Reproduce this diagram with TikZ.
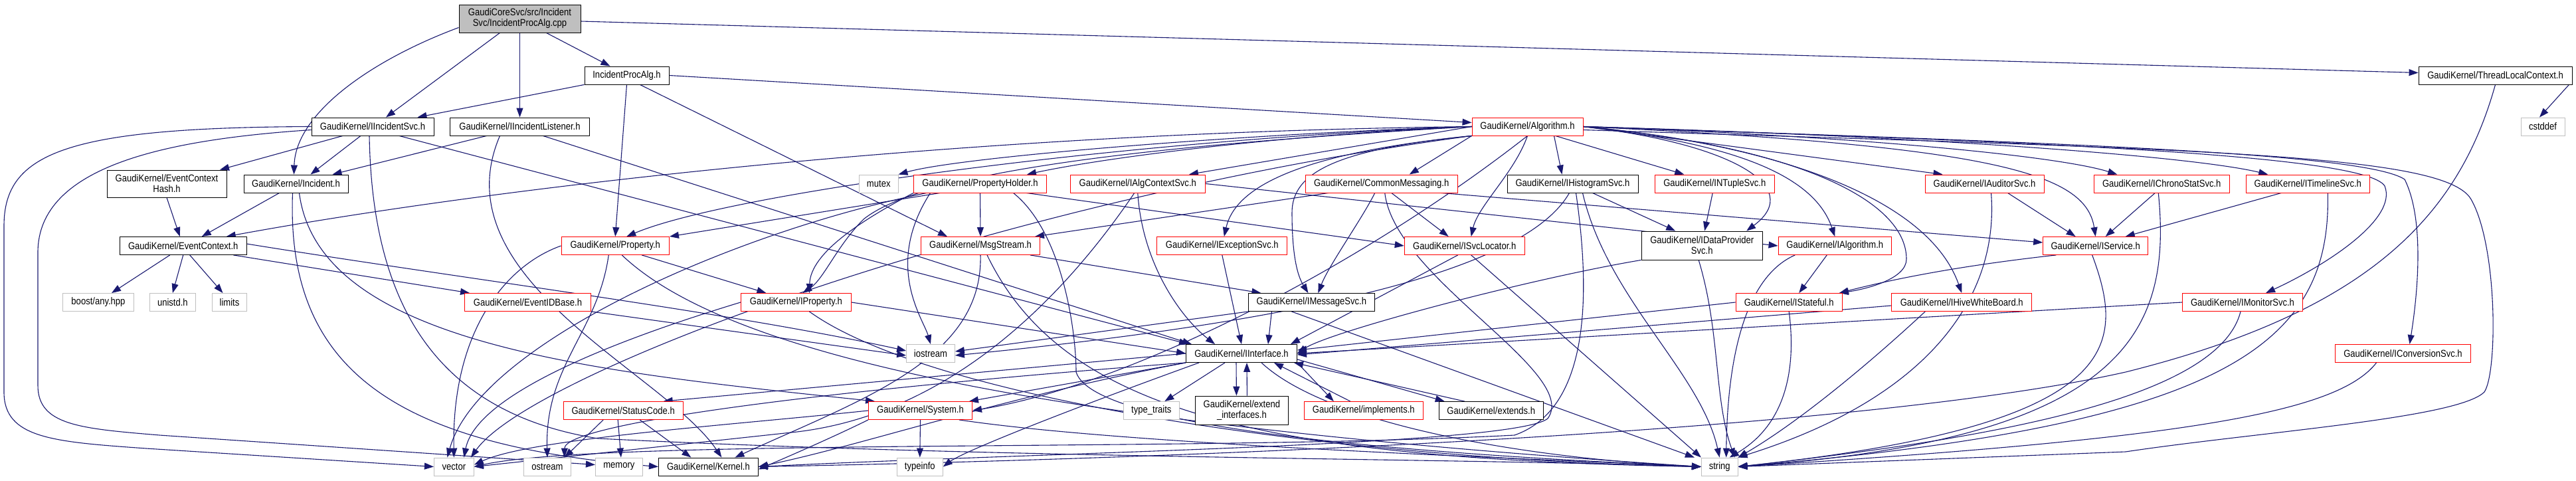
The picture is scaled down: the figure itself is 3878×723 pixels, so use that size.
\documentclass[tikz,border=0pt]{standalone}
\usepackage{fontspec}
\setmainfont{Liberation Sans}[FakeStretch=0.87]
\usetikzlibrary{arrows.meta}
\definecolor{edgec}{HTML}{191970}
\definecolor{gbord}{HTML}{BFBFBF}
\definecolor{rootfill}{HTML}{BFBFBF}
\pgfdeclarelayer{bg}
\pgfsetlayers{bg,main}
\newcommand\nfont{\fontsize{15}{16}\selectfont}
\newcommand\mynode[6]{\node[#1,minimum width=#4pt,minimum height=#5pt] (#2) at (#3) {#6};}
\begin{document}
\begin{tikzpicture}[x=1pt,y=-1pt,
  nb/.style={draw=black,line width=0.9pt,fill=white,inner sep=0pt,align=center,font=\nfont},
  nr/.style={nb,draw=red},
  ng/.style={nb,draw=gbord},
  e/.style={draw=edgec,line width=1.1pt,-{Triangle[length=14pt,width=10pt]}}]
\useasboundingbox (0,0) rectangle (3878,723);
% nodes
\mynode{nb,fill=rootfill}{root}{782.5,28}{183}{42}{GaudiCoreSvc/src/Incident\\Svc/IncidentProcAlg.cpp}
\mynode{nb}{ipah}{943.5,113.5}{127}{27}{IncidentProcAlg.h}
\mynode{nb}{tlc}{3756.5,113.5}{231}{27}{GaudiKernel/ThreadLocalContext.h}
\mynode{nb}{iisvc}{561,190.5}{184}{27}{GaudiKernel/IIncidentSvc.h}
\mynode{nb}{iil}{782.5,190.5}{210}{27}{GaudiKernel/IIncidentListener.h}
\mynode{nr}{alg}{2299.5,190.5}{167}{27}{GaudiKernel/Algorithm.h}
\mynode{ng}{cstddef}{3828,190.5}{66}{27}{cstddef}
\mynode{nb}{echash}{251,276.5}{180}{41}{GaudiKernel/EventContext\\Hash.h}
\mynode{nb}{incident}{445.5,276.5}{157}{27}{GaudiKernel/Incident.h}
\mynode{ng}{mutex}{1322.75,276.5}{58.5}{27}{mutex}
\mynode{nr}{propholder}{1475.5,276.5}{200}{27}{GaudiKernel/PropertyHolder.h}
\mynode{nr}{ialgctx}{1712.75,276.5}{203.5}{27}{GaudiKernel/IAlgContextSvc.h}
\mynode{nr}{commsg}{2079.75,276.5}{228.5}{27}{GaudiKernel/CommonMessaging.h}
\mynode{nb}{ihisto}{2367.5,276.5}{197}{27}{GaudiKernel/IHistogramSvc.h}
\mynode{nr}{intuple}{2581.25,276.5}{180.5}{27}{GaudiKernel/INTupleSvc.h}
\mynode{nr}{iauditor}{2987.5,276.5}{179}{27}{GaudiKernel/IAuditorSvc.h}
\mynode{nr}{ichrono}{3254.25,276.5}{204.5}{27}{GaudiKernel/IChronoStatSvc.h}
\mynode{nr}{itimeline}{3474.25,276.5}{186.5}{27}{GaudiKernel/ITimelineSvc.h}
\mynode{nb}{evctx}{275.75,370}{190.5}{27}{GaudiKernel/EventContext.h}
\mynode{nr}{property}{926.25,370}{162.5}{27}{GaudiKernel/Property.h}
\mynode{nr}{msgstream}{1476,370}{179}{27}{GaudiKernel/MsgStream.h}
\mynode{nr}{iexc}{1839.8,370}{196}{27}{GaudiKernel/IExceptionSvc.h}
\mynode{nr}{isvcloc}{2204.7,370}{181}{27}{GaudiKernel/ISvcLocator.h}
\mynode{nb}{idp}{2562.2,369.5}{182.4}{43}{GaudiKernel/IDataProvider\\Svc.h}
\mynode{nr}{ialgo}{2762.25,370}{170.5}{27}{GaudiKernel/IAlgorithm.h}
\mynode{nr}{iservice}{3154.65,370}{158}{27}{GaudiKernel/IService.h}
\mynode{ng}{boost}{148,455}{107}{27}{boost/any.hpp}
\mynode{ng}{unistd}{259.9,455}{68.6}{27}{unistd.h}
\mynode{ng}{limits}{345.5,455}{52}{27}{limits}
\mynode{nr}{evidbase}{794.5,455}{190}{27}{GaudiKernel/EventIDBase.h}
\mynode{nr}{iprop}{1198.4,455}{166}{27}{GaudiKernel/IProperty.h}
\mynode{nb}{imsgsvc}{1974.4,455}{190}{27}{GaudiKernel/IMessageSvc.h}
\mynode{nr}{istateful}{2693.2,455}{160.4}{27}{GaudiKernel/IStateful.h}
\mynode{nr}{ihive}{2953.2,455}{211}{27}{GaudiKernel/IHiveWhiteBoard.h}
\mynode{nr}{imonitor}{3376,455}{180.8}{27}{GaudiKernel/IMonitorSvc.h}
\mynode{ng}{iostream}{1401,532}{72.8}{27}{iostream}
\mynode{nb}{iinterface}{1869,532}{167}{27}{GaudiKernel/IInterface.h}
\mynode{nr}{iconv}{3617.5,532}{204.5}{27}{GaudiKernel/IConversionSvc.h}
\mynode{nr}{statuscode}{938.2,618}{180}{27}{GaudiKernel/StatusCode.h}
\mynode{nr}{system}{1385.5,618}{156}{27}{GaudiKernel/System.h}
\mynode{ng}{typetraits}{1733.3,618}{84}{27}{type\_traits}
\mynode{nb}{extif}{1869.4,617.5}{140}{43}{GaudiKernel/extend\\\_interfaces.h}
\mynode{nr}{implements}{2052.8,618}{179}{27}{GaudiKernel/implements.h}
\mynode{nb}{extends}{2244.7,618}{157}{27}{GaudiKernel/extends.h}
\mynode{ng}{vector}{683.4,702.5}{60}{27}{vector}
\mynode{ng}{ostream}{824,702.5}{70.7}{27}{ostream}
\mynode{ng}{memory}{931.9,702.5}{71}{27}{memory}
\mynode{nb}{kernel}{1066.4,702.5}{150}{27}{GaudiKernel/Kernel.h}
\mynode{ng}{typeinfo}{1384.8,702.5}{69}{27}{typeinfo}
\mynode{ng}{string}{2588.7,702.5}{54.7}{27}{string}
% edges
\begin{pgfonlayer}{bg}
% root
\draw[e] ([xshift=40pt]root.south) -- ([xshift=-25pt]ipah.north);
\draw[e] (root.south) -- (iil.north);
\draw[e] ([xshift=-30pt]root.south) -- ([xshift=20pt]iisvc.north);
\draw[e] ([yshift=8pt]root.south west) .. controls (560,90) and (445,170) .. ([xshift=-3pt]incident.north);
\draw[e] ([yshift=-4pt]root.east) -- ([yshift=4pt]tlc.west);
% IncidentProcAlg.h
\draw[e] (ipah.east) -- ([yshift=6pt]alg.west);
\draw[e] (ipah.south west) -- ([xshift=-25pt]iisvc.north east);
\draw[e] (ipah.south) -- (property.north);
\draw[e] ([xshift=20pt]ipah.south) -- ([xshift=-50pt]msgstream.north);
% ThreadLocalContext
\draw[e] ([xshift=-5pt]tlc.south east) -- ([xshift=-5pt]cstddef.north);
\draw[e] (tlc.south) .. controls (3700,330) and (3560,470) .. (3200,560) .. controls (2800,650) and (1800,690) .. (kernel.east);
% IIncidentSvc
\draw[e] ([xshift=-45pt]iisvc.south) -- ([xshift=80pt]echash.north);
\draw[e] ([xshift=-18pt]iisvc.south) -- ([xshift=22pt]incident.north);
\draw[e] ([xshift=40pt]iisvc.south) -- ([xshift=-80pt]iinterface.north);
\draw[e] (iisvc.west) .. controls (100,192) and (6,230) .. (6,340) -- (6,590) .. controls (6,660) and (80,665) .. (220,675) -- (vector.west);
\draw[e] ([yshift=-5pt]iisvc.west) .. controls (250,210) and (57,250) .. (57,380) -- (57,580) .. controls (57,640) and (120,645) .. (240,655) -- ([yshift=3pt]memory.west);
\draw[e] ([xshift=-5pt]iisvc.south) .. controls (560,450) and (650,620) .. (900,660) .. controls (1500,690) and (2200,690) .. (string.west);
% IIncidentListener
\draw[e] ([xshift=-50pt]iil.south) -- ([xshift=55pt]incident.north);
\draw[e] ([xshift=35pt]iil.south) -- ([xshift=-75pt]iinterface.north);
\draw[e] ([xshift=-30pt]iil.south) .. controls (660,420) and (1000,560) .. ([xshift=20pt]kernel.north);
% Incident
\draw[e] ([xshift=-25pt]incident.south) -- ([xshift=28pt]evctx.north);
\draw[e] ([xshift=-5pt]incident.south) .. controls (430,560) and (600,670) .. (kernel.west);
\draw[e] ([xshift=5pt]incident.south) .. controls (480,520) and (900,560) .. ([xshift=10pt]system.north west);
% EventContextHash
\draw[e] (echash.south) -- ([xshift=-5pt]evctx.north);
% EventContext
\draw[e] ([xshift=-20pt]evctx.south) -- ([xshift=20pt]boost.north);
\draw[e] (evctx.south) -- (unistd.north);
\draw[e] ([xshift=10pt]evctx.south) -- ([xshift=-10pt]limits.north);
\draw[e] ([xshift=-20pt]evctx.south east) -- ([xshift=8pt]evidbase.north west);
\draw[e] ([yshift=3pt]evctx.east) .. controls (700,420) and (1100,470) .. ([yshift=4pt]iostream.west);
\draw[e] (evidbase.south east) -- ([yshift=-3pt]iostream.west);
% Algorithm.h
\draw[e] (alg.west) .. controls (1900,200) and (1450,235) .. (mutex.north east);
\draw[e] (alg.west) .. controls (1900,205) and (1650,240) .. ([xshift=-30pt]propholder.north east);
\draw[e] (alg.west) -- ([xshift=-25pt]ialgctx.north east);
\draw[e] (alg.south west) -- ([xshift=42pt]commsg.north);
\draw[e] ([xshift=40pt]alg.south) -- ([xshift=-16pt]ihisto.north);
\draw[e] ([xshift=42pt]alg.south) -- ([xshift=-46pt]intuple.north);
\draw[e] (alg.east) -- ([xshift=-63pt]iauditor.north);
\draw[e] (alg.east) .. controls (2800,205) and (3100,235) .. ([xshift=-67pt]ichrono.north);
\draw[e] (alg.east) .. controls (2900,205) and (3300,235) .. ([xshift=-60pt]itimeline.north);
\draw[e] (alg.east) .. controls (3100,215) and (3560,230) .. (3620,270) .. controls (3650,330) and (3640,440) .. ([xshift=10pt]iconv.north);
\draw[e] ([yshift=-5pt]alg.east) .. controls (3300,225) and (3680,230) .. (3720,300) .. controls (3760,370) and (3760,560) .. (3740,590) .. controls (3700,630) and (3400,650) .. (3200,680) -- (string.east);
\draw[e] (alg.east) .. controls (3000,212) and (3560,230) .. (3590,280) .. controls (3610,330) and (3500,400) .. ([xshift=35pt]imonitor.north);
\draw[e] (alg.east) .. controls (3000,220) and (3140,260) .. (iservice.north);
\draw[e] (alg.east) .. controls (2650,215) and (2900,290) .. (ihive.north);
\draw[e] (alg.east) .. controls (2700,220) and (2870,300) .. (2870,390) .. controls (2870,420) and (2810,435) .. ([xshift=-5pt]istateful.north east);
\draw[e] (alg.east) .. controls (2600,215) and (2730,260) .. (ialgo.north);
\draw[e] (alg.east) .. controls (2600,215) and (2720,280) .. ([xshift=67pt]idp.north);
\draw[e] (alg.south) .. controls (2280,260) and (2225,310) .. ([xshift=10pt]isvcloc.north);
\draw[e] (alg.south west) .. controls (1960,230) and (1860,280) .. ([xshift=3pt]iexc.north);
\draw[e] (alg.south west) .. controls (2010,225) and (1945,260) .. (1945,320) .. controls (1945,370) and (1950,410) .. ([xshift=-5pt]imsgsvc.north);
\draw[e] (alg.west) .. controls (1800,215) and (1400,250) .. (1300,330) .. controls (1260,370) and (1240,420) .. ([xshift=10pt]iprop.north);
\draw[e] (alg.west) .. controls (1700,210) and (1100,290) .. ([xshift=17pt]property.north);
\draw[e] (alg.west) .. controls (1400,200) and (700,290) .. ([xshift=65pt]evctx.north);
\draw[e] (alg.south) .. controls (2050,400) and (1700,580) .. (system.east);
\draw[e] (alg.south west) .. controls (1500,300) and (800,560) .. ([xshift=-5pt]vector.north east);
% Property.h
\draw[e] ([xshift=40pt]property.south) -- ([xshift=-45pt]iprop.north);
\draw[e] (property.west) .. controls (760,400) and (680,500) .. (vector.north);
\draw[e] ([xshift=-10pt]property.south) .. controls (900,500) and (820,550) .. (ostream.north);
\draw[e] ([xshift=10pt]property.south) .. controls (1100,540) and (1600,640) .. (string.west);
% PropertyHolder.h
\draw[e] (propholder.south) -- (msgstream.north);
\draw[e] ([xshift=40pt]propholder.south west) -- (property.north east);
\draw[e] (propholder.south west) .. controls (1300,330) and (1220,380) .. ([xshift=20pt]iprop.north);
\draw[e] ([xshift=-75pt]propholder.south) .. controls (1330,400) and (1390,480) .. (iostream.north);
\draw[e] ([xshift=20pt]propholder.south west) .. controls (1100,350) and (720,520) .. ([xshift=-10pt]vector.north);
\draw[e] ([xshift=50pt]propholder.south) .. controls (1600,350) and (1620,500) .. (1620,560) .. controls (1650,660) and (2300,690) .. (string.west);
\draw[e] ([xshift=70pt]propholder.south) -- (isvcloc.west);
% IAlgContextSvc
\draw[e] (ialgctx.east) -- (ialgo.west);
\draw[e] (ialgctx.south) .. controls (1720,400) and (1780,480) .. ([xshift=-40pt]iinterface.north);
\draw[e] ([xshift=-5pt]ialgctx.south) .. controls (1620,420) and (1450,620) .. (1200,650) -- (vector.east);
% CommonMessaging
\draw[e] ([xshift=-80pt]commsg.south) -- ([xshift=-8pt]msgstream.north east);
\draw[e] ([xshift=15pt]commsg.south) -- ([xshift=-24pt]isvcloc.north);
\draw[e] ([xshift=-10pt]commsg.south) .. controls (2050,330) and (2000,400) .. ([xshift=10pt]imsgsvc.north);
\draw[e] ([xshift=90pt]commsg.south) -- ([yshift=5pt]iservice.west);
\draw[e] ([xshift=5pt]commsg.south) .. controls (2100,420) and (2380,560) .. (2330,630) .. controls (2280,670) and (1600,680) .. (kernel.east);
% IHistogramSvc
\draw[e] ([xshift=30pt]ihisto.south) -- ([xshift=-40pt]idp.north);
\draw[e] ([xshift=15pt]ihisto.south) .. controls (2420,450) and (2560,560) .. (string.north);
\draw[e] ([xshift=5pt]ihisto.south) .. controls (2400,480) and (2380,620) .. (2280,655) .. controls (1800,680) and (900,660) .. (vector.east);
\draw[e] ([xshift=-5pt]ihisto.south) .. controls (2300,400) and (2000,480) .. ([yshift=-3pt]iostream.east);
% INTupleSvc
\draw[e] ([xshift=-3pt]intuple.south) -- ([xshift=4pt]idp.north);
% IAuditorSvc
\draw[e] ([xshift=35pt]iauditor.south) -- ([xshift=-30pt]iservice.north);
\draw[e] ([xshift=10pt]iauditor.south) .. controls (3010,450) and (2900,600) .. (string.north east);
% IChronoStatSvc
\draw[e] ([xshift=-10pt]ichrono.south) -- ([xshift=15pt]iservice.north);
\draw[e] ([xshift=-5pt]ichrono.south) .. controls (3270,500) and (3200,660) .. (string.east);
% ITimelineSvc
\draw[e] ([xshift=-40pt]itimeline.south) -- ([xshift=45pt]iservice.north);
\draw[e] ([xshift=30pt]itimeline.south) .. controls (3510,520) and (3350,640) .. (string.east);
% MsgStream
\draw[e] ([xshift=75pt]msgstream.south) -- ([xshift=-76pt]imsgsvc.north);
\draw[e] (msgstream.south) .. controls (1480,540) and (1300,600) .. ([xshift=40pt]kernel.north);
\draw[e] ([xshift=10pt]msgstream.south) .. controls (1600,620) and (1900,690) .. (string.west);
% IExceptionSvc
\draw[e] (iexc.south) -- (iinterface.north);
% ISvcLocator
\draw[e] ([xshift=-10pt]isvcloc.south) -- ([xshift=-10pt]iinterface.north east);
\draw[e] ([xshift=10pt]isvcloc.south) -- (string.north west);
% IDataProviderSvc
\draw[e] (idp.south west) .. controls (2300,420) and (2000,500) .. (iinterface.east);
\draw[e] ([xshift=-5pt]idp.south) .. controls (2590,500) and (2580,600) .. ([xshift=-5pt]string.north east);
% IAlgorithm
\draw[e] ([xshift=-12pt]ialgo.south) -- ([xshift=15pt]istateful.north);
\draw[e] ([xshift=-60pt]ialgo.south) .. controls (2620,420) and (2600,560) .. ([xshift=10pt]string.north);
% IService
\draw[e] ([xshift=20pt]iservice.south west) .. controls (2950,400) and (2850,420) .. ([xshift=-5pt]istateful.north east);
\draw[e] ([xshift=-5pt]iservice.south) .. controls (3200,520) and (3200,640) .. (string.east);
% IStateful
\draw[e] (istateful.west) -- ([yshift=5pt]iinterface.east);
\draw[e] (istateful.south) .. controls (2705,560) and (2686,640) .. ([xshift=15pt]string.north);
% IHiveWhiteBoard
\draw[e] ([yshift=-5pt]ihive.west) -- ([yshift=-2pt]iinterface.east);
\draw[e] ([xshift=-55pt]ihive.south) .. controls (2800,560) and (2700,640) .. (string.north east);
% IMonitorSvc
\draw[e] (imonitor.west) -- (iinterface.east);
\draw[e] ([xshift=-3pt]imonitor.south) .. controls (3340,600) and (3000,660) .. (string.east);
% IConversionSvc
\draw[e] ([xshift=-40pt]iconv.south) .. controls (3520,620) and (3300,660) .. (string.east);
% IProperty
\draw[e] (iprop.east) -- (iinterface.west);
\draw[e] (iprop.west) .. controls (1000,490) and (720,580) .. ([xshift=15pt]vector.north);
\draw[e] ([xshift=20pt]iprop.south) .. controls (1400,600) and (2000,690) .. (string.west);
% IMessageSvc
\draw[e] (imsgsvc.south west) -- ([yshift=3pt]iostream.east);
\draw[e] ([xshift=-60pt]imsgsvc.south) -- ([xshift=40pt]iinterface.north);
\draw[e] ([xshift=-30pt]imsgsvc.south) -- ([xshift=-10pt]string.north west);
% IInterface
\draw[e] ([xshift=-8pt]iinterface.south) -- ([xshift=-8pt]extif.north);
\draw[e] ([xshift=8pt]extif.north) -- ([xshift=8pt]iinterface.south);
\draw[e] ([xshift=-25pt]iinterface.south) -- ([xshift=20pt]typetraits.north);
\draw[e] (iinterface.south east) -- ([xshift=-45pt]implements.north);
\draw[e] ([xshift=-20pt]implements.north) -- ([xshift=-35pt]iinterface.south east);
\draw[e] ([yshift=5pt]iinterface.south east) -- ([xshift=-70pt]extends.north);
\draw[e] ([xshift=-40pt]extends.north) -- ([xshift=-5pt]iinterface.south east);
\draw[e] (iinterface.south west) -- ([xshift=-5pt]system.north east);
\draw[e] (iinterface.west) -- ([xshift=-30pt]statuscode.north east);
\draw[e] (iinterface.south west) .. controls (1500,600) and (1300,670) .. (kernel.east);
\draw[e] ([xshift=20pt]iinterface.south west) .. controls (1600,620) and (1450,680) .. (typeinfo.east);
\draw[e] (iinterface.south west) .. controls (1200,590) and (850,640) .. ([xshift=-10pt]ostream.north east);
\draw[e] ([xshift=30pt]iinterface.south) .. controls (2000,640) and (2300,690) .. (string.west);
% StatusCode
\draw[e] ([xshift=-30pt]statuscode.south) -- ([xshift=-10pt]ostream.north east);
\draw[e] ([xshift=-8pt]statuscode.south) -- ([xshift=3pt]memory.north);
\draw[e] ([xshift=25pt]statuscode.south) -- ([xshift=-26pt]kernel.north);
% System
\draw[e] (system.south) -- (typeinfo.north);
\draw[e] (system.south west) .. controls (1250,660) and (1180,690) .. ([yshift=-4pt]kernel.east);
\draw[e] (system.west) .. controls (1100,640) and (800,660) .. ([yshift=3pt]vector.east);
\draw[e] ([xshift=-20pt]system.south east) .. controls (1700,670) and (2300,690) .. (string.west);
\end{pgfonlayer}
\end{tikzpicture}
\end{document}
